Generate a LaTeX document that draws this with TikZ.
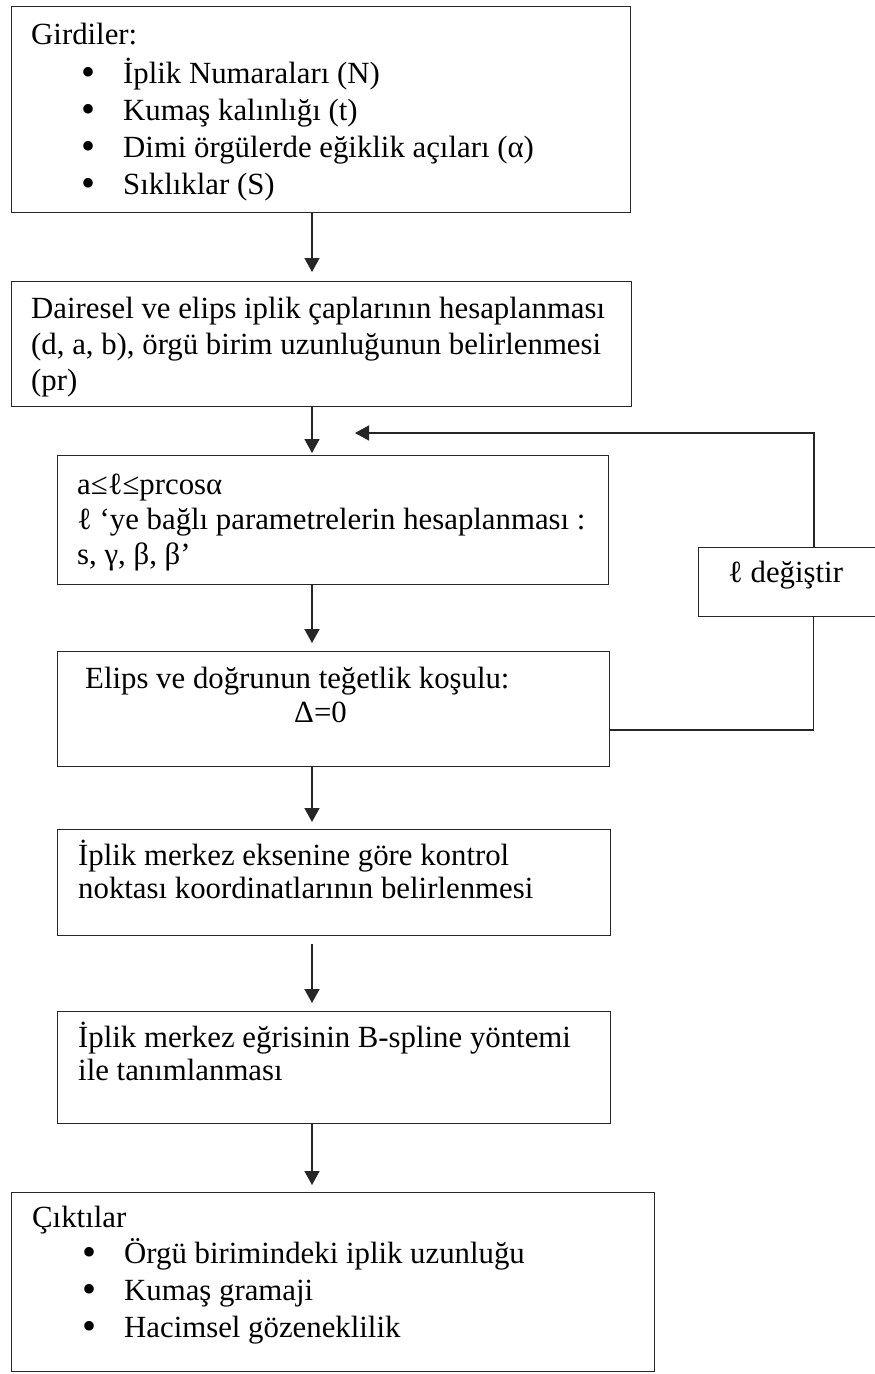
\documentclass[tikz,border=0pt]{standalone}
\usepackage{fontspec}
\setmainfont{Liberation Serif}
\usetikzlibrary{arrows.meta,calc}
\begin{document}
\begin{tikzpicture}[x=1pt,y=-1pt,
  box/.style={draw=black!85, line width=1.4pt, anchor=north west, inner sep=0pt, fill=white},
  txt/.style={anchor=base west, inner sep=0pt, font=\fontsize{30.8pt}{37pt}\selectfont},
  dot/.style={anchor=base west, inner sep=0pt, font=\fontsize{40pt}{40pt}\selectfont},
  flow/.style={draw=black!85, line width=1.6pt, -{Triangle[width=15pt,length=14pt]}},
  link/.style={draw=black!85, line width=1.4pt}]
\path[use as bounding box, clip] (0,0) rectangle (875,1374);
\fill[white] (0,0) rectangle (875,1374);

% loop connector (drawn first, the side box covers it)
\coordinate (lp) at (609,730);
\coordinate (lq) at (355,433);
\node[box, minimum width=230pt, minimum height=69pt] (lb) at (698,547) {};
\draw[link] (lp) -| (lb.south);
\draw[flow] (lb.north) |- (lq);
\node[txt] (lbt) at (728,582) {ℓ değiştir};

% process boxes
\node[box, minimum width=619pt, minimum height=206pt] (b1) at (11,6) {};
\node[box, minimum width=620pt, minimum height=125pt] (b2) at (11,281) {};
\node[box, minimum width=551pt, minimum height=129pt] (b3) at (57,455) {};
\node[box, minimum width=552pt, minimum height=115pt] (b4) at (57,651) {};
\node[box, minimum width=553pt, minimum height=106pt] (b5) at (57,829) {};
\node[box, minimum width=553pt, minimum height=112pt] (b6) at (57,1011) {};
\node[box, minimum width=643pt, minimum height=179pt] (b7) at (11,1192) {};

% inputs
\node[txt] (t1) at (31,44) {Girdiler:};
\node[dot] (t1p) at (81,85) {•}; \node[txt] (t1a) at (123,83) {İplik Numaraları (N)};
\node[dot] (t1q) at (81,122) {•}; \node[txt] (t1b) at (123,120) {Kumaş kalınlığı (t)};
\node[dot] (t1r) at (81,159) {•}; \node[txt] (t1c) at (123,157) {Dimi örgülerde eğiklik açıları (α)};
\node[dot] (t1s) at (81,196) {•}; \node[txt] (t1d) at (123,194) {Sıklıklar (S)};

% step texts
\node[txt] (t2a) at (31,318) {Dairesel ve elips iplik çaplarının hesaplanması};
\node[txt] (t2b) at (31,354) {(d, a, b), örgü birim uzunluğunun belirlenmesi};
\node[txt] (t2c) at (31,390) {(pr)};

\node[txt] (t3a) at (77,494) {a≤ℓ≤prcosα};
\node[txt] (t3b) at (77,529) {ℓ ‘ye bağlı parametrelerin hesaplanması :};
\node[txt] (t3c) at (77,564) {s, γ, β, β’};

\node[txt] (t4a) at (85,688) {Elips ve doğrunun teğetlik koşulu:};
\node[txt] (t4b) at (294,722) {Δ=0};

\node[txt] (t5a) at (78,865) {İplik merkez eksenine göre kontrol};
\node[txt] (t5b) at (78,898) {noktası koordinatlarının belirlenmesi};

\node[txt] (t6a) at (78,1047) {İplik merkez eğrisinin B-spline yöntemi};
\node[txt] (t6b) at (78,1080) {ile tanımlanması};

% outputs
\node[txt] (t7) at (32,1227) {Çıktılar};
\node[dot] (t7p) at (82,1265) {•}; \node[txt] (t7a) at (124,1263) {Örgü birimindeki iplik uzunluğu};
\node[dot] (t7q) at (82,1302) {•}; \node[txt] (t7b) at (124,1300) {Kumaş gramaji};
\node[dot] (t7r) at (82,1339) {•}; \node[txt] (t7c) at (124,1337) {Hacimsel gözeneklilik};

% main flow
\coordinate (ax) at (312,0);
\draw[flow] (b1.south -| ax) -- ($(b2.north -| ax)+(0,-9)$);
\draw[flow] (b2.south -| ax) -- ($(b3.north -| ax)+(0,-2)$);
\draw[flow] (b3.south -| ax) -- ($(b4.north -| ax)+(0,-8)$);
\draw[flow] (b4.south -| ax) -- ($(b5.north -| ax)+(0,-7)$);
\draw[flow] ($(b5.south -| ax)+(0,8)$) -- ($(b6.north -| ax)+(0,-8)$);
\draw[flow] (b6.south -| ax) -- ($(b7.north -| ax)+(0,-7)$);
\end{tikzpicture}
\end{document}
